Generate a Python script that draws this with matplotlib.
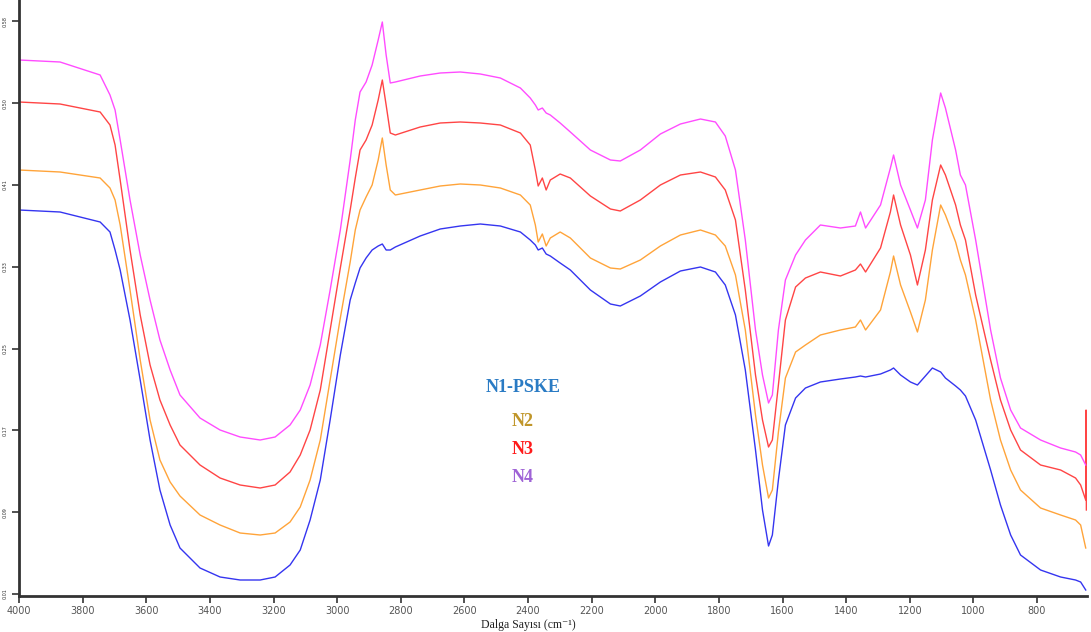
import numpy as np
import matplotlib
matplotlib.use("Agg")
from matplotlib import pyplot as plt

# wavenumber grid (cm-1), shared by all four spectra
wavenumber = [
    4000, 3871, 3745, 3714, 3698, 3682, 3651, 3619, 3588, 3557, 3525, 3494,
    3431, 3368, 3305, 3242, 3195, 3148, 3116, 3085, 3053, 3022, 2990, 2959,
    2943, 2928, 2909, 2890, 2871, 2858, 2846, 2833, 2817, 2739, 2676, 2613,
    2550, 2487, 2424, 2393, 2377, 2368, 2355, 2343, 2330, 2299, 2267, 2204,
    2141, 2110, 2047, 1984, 1921, 1858, 1811, 1780, 1748, 1717, 1685, 1663,
    1644, 1632, 1613, 1591, 1559, 1528, 1481, 1418, 1371, 1355, 1339, 1292,
    1261, 1251, 1229, 1198, 1176, 1151, 1129, 1103, 1088, 1056, 1041, 1025,
    993, 946, 915, 883, 852, 789, 726, 679, 663, 647,
]

n1_pske = [
    .390, .388, .378, .368, .350, .330, .280, .220, .160, .110, .075, .052,
    .032, .023, .020, .020, .023, .035, .050, .080, .120, .180, .245, .300,
    .317, .332, .342, .350, .354, .356, .350, .350, .353, .364, .371, .374,
    .376, .374, .368, .360, .355, .350, .352, .346, .344, .337, .330, .310,
    .296, .294, .304, .318, .329, .333, .328, .315, .285, .230, .150, .090,
    .054, .065, .120, .175, .202, .212, .218, .221, .223, .224, .223, .226,
    .230, .232, .225, .218, .215, .224, .232, .228, .222, .214, .210, .204,
    .180, .130, .095, .065, .045, .030, .023, .020, .018, .010,
]

n2 = [
    .430, .428, .422, .412, .400, .375, .310, .240, .180, .140, .118, .104,
    .085, .075, .067, .065, .067, .078, .093, .120, .160, .220, .282, .338,
    .370, .390, .403, .415, .440, .462, .435, .410, .405, .410, .414, .416,
    .415, .412, .405, .395, .375, .358, .366, .354, .362, .368, .362, .342,
    .332, .331, .340, .354, .365, .370, .365, .354, .325, .270, .185, .135,
    .102, .110, .168, .222, .248, .255, .265, .270, .273, .280, .270, .290,
    .328, .344, .315, .288, .268, .300, .350, .395, .385, .358, .340, .325,
    .280, .200, .160, .130, .110, .092, .085, .080, .075, .052,
]

n3 = [
    .498, .496, .488, .475, .455, .420, .350, .285, .235, .200, .175, .155,
    .135, .122, .115, .112, .115, .128, .145, .170, .210, .270, .332, .390,
    .422, .450, .460, .475, .500, .520, .495, .467, .465, .473, .477, .478,
    .477, .475, .467, .455, .430, .414, .422, .410, .420, .426, .422, .404,
    .391, .389, .400, .415, .425, .428, .423, .410, .380, .310, .225, .180,
    .153, .160, .215, .280, .313, .322, .328, .324, .330, .336, .328, .352,
    .388, .405, .375, .345, .315, .350, .400, .435, .425, .395, .375, .360,
    .305, .240, .200, .170, .150, .135, .130, .122, .115, .100,
]

n4 = [
    .540, .538, .525, .505, .490, .460, .400, .345, .300, .260, .230, .205,
    .182, .170, .163, .160, .163, .175, .190, .215, .255, .310, .370, .440,
    .480, .508, .518, .535, .560, .578, .545, .517, .518, .524, .527, .528,
    .526, .522, .512, .502, .495, .490, .492, .487, .485, .477, .468, .450,
    .440, .439, .450, .466, .476, .481, .478, .464, .430, .360, .270, .225,
    .197, .205, .270, .320, .345, .360, .375, .372, .374, .388, .372, .395,
    .432, .445, .415, .390, .372, .400, .460, .507, .492, .450, .425, .415,
    .360, .270, .222, .190, .172, .160, .152, .148, .145, .135,
]

# detector spike at the low-wavenumber end of N3
n3_tail_wn = [646, 645]
n3_tail = [.190, .090]

series = [
    ("N1-PSKE", n1_pske, "#3535f0", "#2a7bc4"),
    ("N2", n2, "#ffa43a", "#c0962a"),
    ("N3", n3, "#ff4545", "#ff1a1a"),
    ("N4", n4, "#ff4cff", "#9f63d6"),
]

fig = plt.figure(figsize=(10.91, 6.32), dpi=100)
ax = fig.add_axes([19 / 1091, 1 - 596 / 632, 1068 / 1091, 596 / 632])

for name, vals, color, _ in series:
    if name == "N3":
        ax.plot(wavenumber + n3_tail_wn, vals + n3_tail, color=color, lw=1.0)
    else:
        ax.plot(wavenumber, vals, color=color, lw=1.0)

ax.set_xlim(4000, 643)
ax.set_ylim(0.004, 0.600)

ax.set_xticks(np.arange(4000, 700, -200))
ax.set_xticklabels([str(v) for v in range(4000, 700, -200)])
yt = np.arange(0.006, 0.6, 0.0818)
ax.set_yticks(yt)
ax.set_yticklabels(["%.2f" % v for v in yt], rotation=90, fontsize=3.5,
                   color="#6f7f9a", va="center")

ax.tick_params(axis="x", direction="out", length=5, width=1.2, colors="#333333",
               labelsize=7, labelcolor="#555555", pad=2)
ax.tick_params(axis="y", direction="out", length=5, width=1.2, colors="#333333",
               pad=3)

for side in ("top", "right"):
    ax.spines[side].set_visible(False)
for side in ("left", "bottom"):
    ax.spines[side].set_linewidth(2.0)
    ax.spines[side].set_color("#333333")

# legend as coloured labels in the middle of the plot
label_y = [387, 422, 450, 477]
for (name, _, _, tcolor), py in zip(series, label_y):
    fig.text(523 / 1091, 1 - py / 632, name, color=tcolor, fontsize=13,
             fontweight="bold", family="Liberation Serif", ha="center", va="center")

fig.text(528 / 1091, 1 / 632, "Dalga Sayısı (cm⁻¹)", fontsize=8.5,
         family=["Liberation Serif", "DejaVu Serif"], ha="center", va="bottom",
         color="#222222")

fig.savefig("out.png", dpi=100)
